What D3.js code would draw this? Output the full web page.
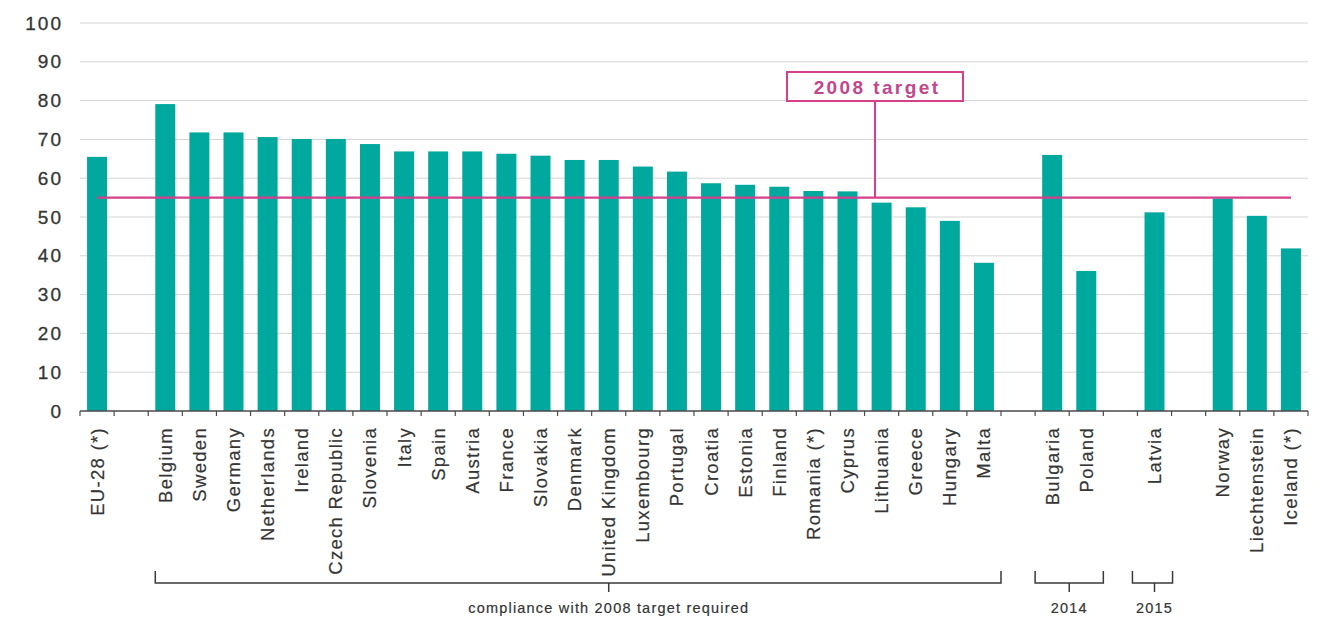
<!DOCTYPE html>
<html>
<head>
<meta charset="utf-8">
<script src="https://cdn.jsdelivr.net/npm/d3@7"></script>
<style>
  html, body { margin: 0; padding: 0; background: #fff; }
  svg { display: block; font-family: Arial, "Liberation Sans", sans-serif; }
</style>
</head>
<body>
<svg id="chart" width="1323" height="619"></svg>
<script>
// Countries in display order; null marks an empty spacer slot between groups
const categories = [
  "EU-28 (*)", null,
  "Belgium", "Sweden", "Germany", "Netherlands", "Ireland", "Czech Republic",
  "Slovenia", "Italy", "Spain", "Austria", "France", "Slovakia", "Denmark",
  "United Kingdom", "Luxembourg", "Portugal", "Croatia", "Estonia", "Finland",
  "Romania (*)", "Cyprus", "Lithuania", "Greece", "Hungary", "Malta", null,
  "Bulgaria", "Poland", null,
  "Latvia", null,
  "Norway", "Liechtenstein", "Iceland (*)"
];

// Recycling rate (%) per slot, null for spacers
const values = [
  65.5, null,
  79.1, 71.8, 71.8, 70.6, 70.1, 70.1,
  68.8, 66.9, 66.9, 66.9, 66.3, 65.8, 64.7,
  64.7, 63.0, 61.7, 58.7, 58.3, 57.8,
  56.7, 56.6, 53.7, 52.5, 49.0, 38.2, null,
  66.0, 36.1, null,
  51.2, null,
  54.8, 50.3, 41.9
];

const yTicks = [0, 10, 20, 30, 40, 50, 60, 70, 80, 90, 100];
const targetValue = 55;
const targetLabel = "2008 target";

// Group brackets under the axis labels
const bracketFrom  = ["Belgium", "Bulgaria", "Latvia"];
const bracketTo    = ["Malta", "Poland", "Latvia"];
const bracketMid   = ["United Kingdom", null, "Latvia"];
const bracketLabel = ["compliance with 2008 target required", "2014", "2015"];

(function draw() {
  // ---- layout ----
  const plotLeft = 80, plotRight = 1308, plotTop = 23, plotBottom = 411;
  const barColor = "#00a89e";
  const pink = "#d63f8c";
  const ink = "#353535";

  const keys = categories.map((c, i) => c === null ? "_gap" + i : c);
  const rows = keys.map((k, i) => ({ key: k, label: categories[i], value: values[i] }));

  const x = d3.scaleBand().domain(keys).range([plotLeft, plotRight])
    .paddingInner(0.414).paddingOuter(0.207);
  const y = d3.scaleLinear().domain([0, 100]).range([plotBottom, plotTop]);
  const step = x.step();
  const slotStart = k => x(k) - (step - x.bandwidth()) / 2;
  const center = k => x(k) + x.bandwidth() / 2;

  const svg = d3.select("#chart");

  // horizontal gridlines
  svg.append("g").selectAll("line").data(yTicks.filter(t => t > 0)).join("line")
    .attr("x1", plotLeft).attr("x2", plotRight)
    .attr("y1", d => y(d)).attr("y2", d => y(d))
    .attr("stroke", "#d4d4d4").attr("stroke-width", 1);

  // y tick labels
  svg.append("g").selectAll("text").data(yTicks).join("text")
    .attr("x", 63).attr("y", d => y(d))
    .attr("text-anchor", "end").attr("dominant-baseline", "central")
    .attr("font-size", 19).attr("letter-spacing", 2)
    .attr("fill", ink).attr("stroke", ink).attr("stroke-width", 0.3)
    .text(d => d);

  // bars
  svg.append("g").selectAll("rect").data(rows.filter(r => r.value !== null)).join("rect")
    .attr("x", d => x(d.key)).attr("width", x.bandwidth())
    .attr("y", d => y(d.value)).attr("height", d => y(0) - y(d.value))
    .attr("fill", barColor);

  // x axis line and slot boundary ticks
  svg.append("line")
    .attr("x1", plotLeft).attr("x2", plotRight).attr("y1", plotBottom).attr("y2", plotBottom)
    .attr("stroke", "#4a4a4a").attr("stroke-width", 1.5);
  svg.append("g").selectAll("line").data(d3.range(keys.length + 1)).join("line")
    .attr("x1", i => plotLeft + i * step).attr("x2", i => plotLeft + i * step)
    .attr("y1", plotBottom).attr("y2", plotBottom + 5)
    .attr("stroke", "#4a4a4a").attr("stroke-width", 1.2);

  // rotated category labels
  svg.append("g").selectAll("text").data(rows.filter(r => r.label !== null)).join("text")
    .attr("transform", d => `translate(${center(d.key)},${plotBottom + 16}) rotate(-90)`)
    .attr("text-anchor", "end").attr("dominant-baseline", "central")
    .attr("font-size", 18.5).attr("letter-spacing", 1.3)
    .attr("fill", ink).attr("stroke", ink).attr("stroke-width", 0.2)
    .text(d => d.label);

  // target line
  const tY = y(targetValue);
  svg.append("line")
    .attr("x1", center(keys[0])).attr("x2", center(keys[keys.length - 1]))
    .attr("y1", tY).attr("y2", tY)
    .attr("stroke", pink).attr("stroke-width", 2.4);

  // target callout box with connector
  const boxX = 787, boxY = 72, boxW = 176, boxH = 29;
  svg.append("line")
    .attr("x1", boxX + boxW / 2).attr("x2", boxX + boxW / 2)
    .attr("y1", boxY + boxH).attr("y2", tY)
    .attr("stroke", pink).attr("stroke-width", 2);
  svg.append("rect")
    .attr("x", boxX).attr("y", boxY).attr("width", boxW).attr("height", boxH)
    .attr("fill", "#fff").attr("stroke", pink).attr("stroke-width", 2);
  svg.append("text")
    .attr("x", boxX + boxW / 2 + 2).attr("y", boxY + boxH / 2 + 1)
    .attr("text-anchor", "middle").attr("dominant-baseline", "central")
    .attr("font-size", 19).attr("font-weight", "bold").attr("letter-spacing", 2.4)
    .attr("fill", "#c2468c")
    .text(targetLabel);

  // group brackets
  const bY = 583, bUp = 12, bDown = 9;
  const brackets = bracketFrom.map((f, i) => {
    const single = f === bracketTo[i];
    let x1 = slotStart(f), x2 = slotStart(bracketTo[i]) + step;
    if (i === 0) { x1 = x(f); }
    if (single) { x1 -= 5; x2 += 1; }
    const xm = bracketMid[i] ? center(bracketMid[i]) : slotStart(bracketTo[i]);
    return { x1, x2, xm, label: bracketLabel[i] };
  });
  const bg = svg.append("g").attr("fill", "none").attr("stroke", "#3a3a3a").attr("stroke-width", 1.5);
  brackets.forEach(b => {
    bg.append("path")
      .attr("d", `M${b.x1},${bY - bUp}V${bY}H${b.x2}V${bY - bUp}M${b.xm},${bY}V${bY + bDown}`);
  });
  svg.append("g").selectAll("text").data(brackets).join("text")
    .attr("x", d => d.xm).attr("y", 608)
    .attr("text-anchor", "middle").attr("dominant-baseline", "central")
    .attr("font-size", 14.5).attr("letter-spacing", 1.2)
    .attr("fill", ink).attr("stroke", ink).attr("stroke-width", 0.2)
    .text(d => d.label);
})();
</script>
</body>
</html>
